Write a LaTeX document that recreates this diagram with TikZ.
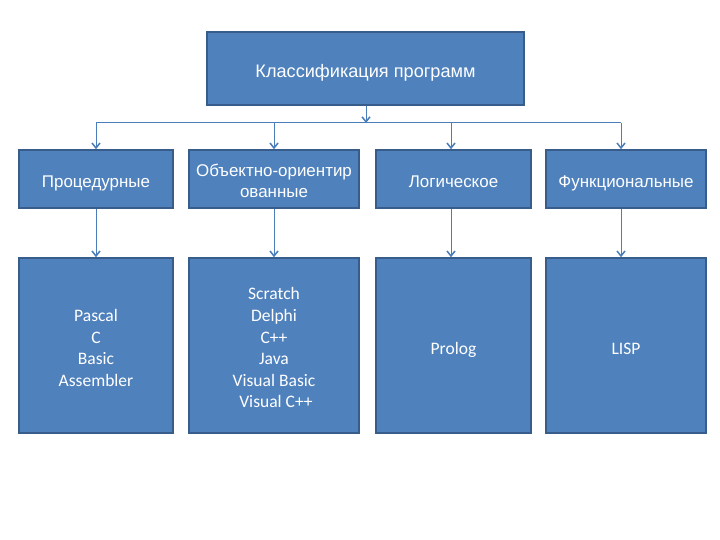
\documentclass[tikz,border=0pt]{standalone}
\usepackage{fontspec}
\setmainfont{Liberation Sans}
\newfontfamily\calib{Carlito}
\usetikzlibrary{arrows.meta}
\definecolor{boxfill}{HTML}{4F81BD}
\definecolor{boxline}{HTML}{385D8A}
\definecolor{conn}{HTML}{4A7EBB}
\newsavebox\btbox
\newcommand\btxt[2]{\sbox\btbox{\begin{tabular}{@{}c@{}}#2\end{tabular}}\raisebox{#1}[\ht\btbox][\dp\btbox]{\usebox\btbox}}
\begin{document}
\begin{tikzpicture}[x=1bp,y=-1bp,
  box/.style={draw=boxline,line width=1.6bp,fill=boxfill,text=white,inner sep=0pt},
  lvl/.style={box,font=\fontsize{17}{21}\selectfont},
  lang/.style={box,font=\calib\fontsize{17.6}{21.7}\selectfont},
  conline/.style={draw=conn,line width=1bp},
  conarrow/.style={conline,-{Straight Barb[length=5bp,width=8bp,line width=1.5bp]}}]
\useasboundingbox (0,0) rectangle (720,540);
\node[box,font=\fontsize{18.2}{22}\selectfont,minimum width=317bp,minimum height=73bp] (top) at (365.5,68.5) {\btxt{-5bp}{Классификация программ}};
\node[lvl,minimum width=154bp,minimum height=58bp] (b1) at (96,179) {\btxt{-4bp}{Процедурные}};
\node[lvl,minimum width=170bp,minimum height=58bp] (b2) at (274,179) {\btxt{-4bp}{Объектно-ориентир\\ованные}};
\node[lvl,minimum width=155bp,minimum height=58bp] (b3) at (453.5,179) {\btxt{-4bp}{Логическое}};
\node[lvl,minimum width=160bp,minimum height=58bp] (b4) at (626,179) {\btxt{-4bp}{Функциональные}};
\node[lang,minimum width=154bp,minimum height=175bp] (c1) at (96,345.5) {\btxt{-4bp}{Pascal\\C\\Basic\\Assembler}};
\node[lang,minimum width=170bp,minimum height=175bp] (c2) at (274,345.5) {\btxt{-4bp}{Scratch\\Delphi\\C++\\Java\\Visual Basic\\\ Visual C++}};
\node[lang,minimum width=155bp,minimum height=175bp] (c3) at (453.5,345.5) {\btxt{-5bp}{Prolog}};
\node[lang,minimum width=160bp,minimum height=175bp] (c4) at (626,345.5) {\btxt{-5bp}{LISP}};
\coordinate (j0) at (366,123);
\coordinate (j1) at (96,123);
\coordinate (j2) at (274,123);
\coordinate (j3) at (451,123);
\coordinate (j4) at (621,123);
\draw[conarrow] (top.south -| j0) -- (j0);
\draw[conline] (j1) -- (j4);
\foreach \i in {1,2,3,4}{
  \draw[conarrow] (j\i) -- (j\i |- b\i.north);
  \draw[conarrow] (b\i.south -| j\i) -- (c\i.north -| j\i);
}
\end{tikzpicture}
\end{document}
